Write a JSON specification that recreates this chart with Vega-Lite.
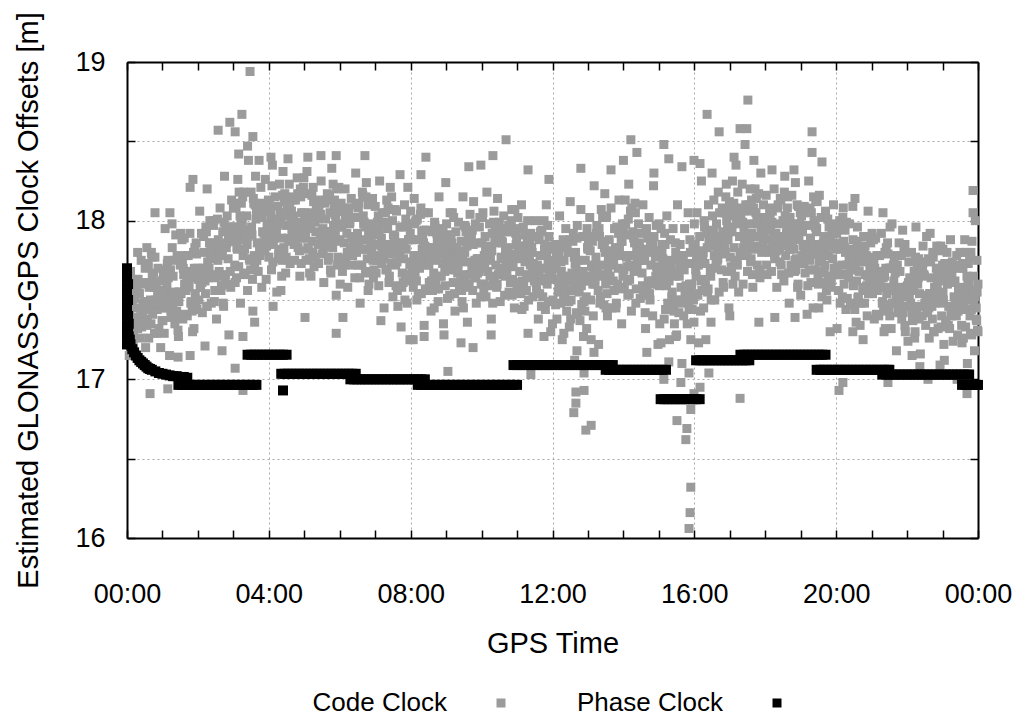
{
"$schema": "https://vega.github.io/schema/vega-lite/v6.json",
"width": 851, "height": 476,
"autosize": {"type": "none"},
"padding": {"left": 127, "top": 62, "right": 43, "bottom": 177},
"background": "white",
"config": {"view": {"stroke": null}, "font": "Liberation Sans",
 "legend": {"orient": "none", "legendX": 361, "legendY": 628, "direction": "horizontal", "title": null, "labelFont": "Liberation Sans", "labelFontSize": 26, "labelColor": "black", "symbolType": "square", "symbolSize": 81, "symbolStrokeWidth": 0, "symbolOpacity": 1, "labelAlign": "right", "labelOffset": -67, "columnPadding": 71}},
"datasets": {
"code": [
{"t":0,"v":17.50},{"t":0.025,"v":17.29},{"t":0.05,"v":17.57},{"t":0.075,"v":17.42},{"t":0.1,"v":17.68},{"t":0.125,"v":17.35},{"t":0.15,"v":17.47},{"t":0.175,"v":17.21},{"t":0.2,"v":17.59},{"t":0.225,"v":17.51},{"t":0.25,"v":17.39},{"t":0.275,"v":17.63},{"t":0.3,"v":17.32},{"t":0.325,"v":17.45},{"t":0.35,"v":17.54},{"t":0.375,"v":17.26},{"t":0.4,"v":17.75},{"t":0.425,"v":17.38},{"t":0.45,"v":17.48},{"t":0.475,"v":17.60},{"t":0.5,"v":17.49},{"t":0.525,"v":17.20},{"t":0.55,"v":17.61},{"t":0.575,"v":17.38},{"t":0.6,"v":17.71},{"t":0.625,"v":17.58},{"t":0.65,"v":17.46},{"t":0.675,"v":17.35},{"t":0.7,"v":17.77},{"t":0.725,"v":17.41},{"t":0.75,"v":17.67},{"t":0.775,"v":17.29},{"t":0.8,"v":17.50},{"t":0.825,"v":17.58},{"t":0.85,"v":17.44},{"t":0.875,"v":17.70},{"t":0.9,"v":17.32},{"t":0.925,"v":17.53},{"t":0.95,"v":17.49},{"t":0.975,"v":17.62},
{"t":1,"v":17.55},{"t":1.025,"v":17.67},{"t":1.05,"v":17.29},{"t":1.075,"v":17.95},{"t":1.1,"v":17.45},{"t":1.125,"v":17.59},{"t":1.15,"v":17.75},{"t":1.175,"v":17.53},{"t":1.2,"v":17.15},{"t":1.225,"v":17.69},{"t":1.25,"v":17.39},{"t":1.275,"v":17.83},{"t":1.3,"v":17.65},{"t":1.325,"v":17.49},{"t":1.35,"v":17.35},{"t":1.375,"v":17.91},{"t":1.4,"v":17.43},{"t":1.425,"v":17.77},{"t":1.45,"v":17.27},{"t":1.475,"v":17.55},{"t":1.5,"v":17.72},{"t":1.525,"v":17.54},{"t":1.55,"v":17.88},{"t":1.575,"v":17.38},{"t":1.6,"v":17.66},{"t":1.625,"v":17.60},{"t":1.65,"v":17.78},{"t":1.675,"v":17.68},{"t":1.7,"v":17.40},{"t":1.725,"v":17.78},{"t":1.75,"v":17.58},{"t":1.775,"v":17.92},{"t":1.8,"v":17.48},{"t":1.825,"v":17.64},{"t":1.85,"v":17.30},{"t":1.875,"v":17.80},{"t":1.9,"v":17.70},{"t":1.925,"v":17.54},{"t":1.95,"v":17.86},{"t":1.975,"v":17.44},
{"t":2,"v":17.64},{"t":2.025,"v":17.50},{"t":2.05,"v":18.06},{"t":2.075,"v":17.58},{"t":2.1,"v":17.92},{"t":2.125,"v":17.42},{"t":2.15,"v":17.70},{"t":2.175,"v":17.80},{"t":2.2,"v":17.62},{"t":2.225,"v":17.96},{"t":2.25,"v":17.46},{"t":2.275,"v":17.74},{"t":2.3,"v":17.68},{"t":2.325,"v":17.86},{"t":2.35,"v":17.76},{"t":2.375,"v":17.48},{"t":2.4,"v":17.86},{"t":2.425,"v":17.66},{"t":2.45,"v":18.00},{"t":2.475,"v":17.56},{"t":2.5,"v":17.81},{"t":2.525,"v":17.38},{"t":2.55,"v":18.01},{"t":2.575,"v":17.88},{"t":2.6,"v":17.68},{"t":2.625,"v":18.08},{"t":2.65,"v":17.56},{"t":2.675,"v":17.78},{"t":2.7,"v":17.93},{"t":2.725,"v":17.46},{"t":2.75,"v":18.28},{"t":2.775,"v":17.66},{"t":2.8,"v":17.83},{"t":2.825,"v":18.03},{"t":2.85,"v":17.76},{"t":2.875,"v":17.28},{"t":2.9,"v":17.96},{"t":2.925,"v":17.58},{"t":2.95,"v":18.13},{"t":2.975,"v":17.91},
{"t":3,"v":18.08},{"t":3.025,"v":17.96},{"t":3.05,"v":17.61},{"t":3.075,"v":18.08},{"t":3.1,"v":17.83},{"t":3.125,"v":18.26},{"t":3.15,"v":17.71},{"t":3.175,"v":17.91},{"t":3.2,"v":17.48},{"t":3.225,"v":18.11},{"t":3.25,"v":17.98},{"t":3.275,"v":17.78},{"t":3.3,"v":18.18},{"t":3.325,"v":17.66},{"t":3.35,"v":17.88},{"t":3.375,"v":18.03},{"t":3.4,"v":17.56},{"t":3.425,"v":18.38},{"t":3.45,"v":17.76},{"t":3.475,"v":17.93},{"t":3.5,"v":18.18},{"t":3.525,"v":17.91},{"t":3.55,"v":17.43},{"t":3.575,"v":18.11},{"t":3.6,"v":17.73},{"t":3.625,"v":18.28},{"t":3.65,"v":18.06},{"t":3.675,"v":17.86},{"t":3.7,"v":17.68},{"t":3.725,"v":18.38},{"t":3.75,"v":17.78},{"t":3.775,"v":18.21},{"t":3.8,"v":17.58},{"t":3.825,"v":17.93},{"t":3.85,"v":18.06},{"t":3.875,"v":17.83},{"t":3.9,"v":18.26},{"t":3.925,"v":17.63},{"t":3.95,"v":17.98},{"t":3.975,"v":17.91},
{"t":4,"v":17.77},{"t":4.025,"v":17.95},{"t":4.05,"v":18.07},{"t":4.075,"v":17.69},{"t":4.1,"v":18.35},{"t":4.125,"v":17.85},{"t":4.15,"v":17.99},{"t":4.175,"v":18.15},{"t":4.2,"v":17.93},{"t":4.225,"v":17.55},{"t":4.25,"v":18.09},{"t":4.275,"v":17.79},{"t":4.3,"v":18.23},{"t":4.325,"v":18.05},{"t":4.35,"v":17.89},{"t":4.375,"v":17.75},{"t":4.4,"v":18.31},{"t":4.425,"v":17.83},{"t":4.45,"v":18.17},{"t":4.475,"v":17.67},{"t":4.5,"v":17.97},{"t":4.525,"v":18.07},{"t":4.55,"v":17.89},{"t":4.575,"v":18.23},{"t":4.6,"v":17.73},{"t":4.625,"v":18.01},{"t":4.65,"v":17.95},{"t":4.675,"v":18.13},{"t":4.7,"v":18.03},{"t":4.725,"v":17.75},{"t":4.75,"v":18.13},{"t":4.775,"v":17.93},{"t":4.8,"v":18.27},{"t":4.825,"v":17.83},{"t":4.85,"v":17.99},{"t":4.875,"v":17.65},{"t":4.9,"v":18.15},{"t":4.925,"v":18.05},{"t":4.95,"v":17.89},{"t":4.975,"v":18.21},
{"t":5,"v":18.05},{"t":5.025,"v":17.89},{"t":5.05,"v":17.75},{"t":5.075,"v":18.31},{"t":5.1,"v":17.83},{"t":5.125,"v":18.17},{"t":5.15,"v":17.67},{"t":5.175,"v":17.95},{"t":5.2,"v":18.05},{"t":5.225,"v":17.87},{"t":5.25,"v":18.21},{"t":5.275,"v":17.71},{"t":5.3,"v":17.99},{"t":5.325,"v":17.93},{"t":5.35,"v":18.11},{"t":5.375,"v":18.01},{"t":5.4,"v":17.73},{"t":5.425,"v":18.11},{"t":5.45,"v":17.91},{"t":5.475,"v":18.25},{"t":5.5,"v":17.79},{"t":5.525,"v":17.95},{"t":5.55,"v":17.61},{"t":5.575,"v":18.11},{"t":5.6,"v":18.01},{"t":5.625,"v":17.85},{"t":5.65,"v":18.17},{"t":5.675,"v":17.75},{"t":5.7,"v":17.93},{"t":5.725,"v":18.05},{"t":5.75,"v":17.67},{"t":5.775,"v":18.33},{"t":5.8,"v":17.83},{"t":5.825,"v":17.97},{"t":5.85,"v":18.13},{"t":5.875,"v":17.91},{"t":5.9,"v":17.53},{"t":5.925,"v":18.07},{"t":5.95,"v":17.77},{"t":5.975,"v":18.21},
{"t":6,"v":17.88},{"t":6.025,"v":18.06},{"t":6.05,"v":17.96},{"t":6.075,"v":17.68},{"t":6.1,"v":18.06},{"t":6.125,"v":17.86},{"t":6.15,"v":18.20},{"t":6.175,"v":17.76},{"t":6.2,"v":17.92},{"t":6.225,"v":17.58},{"t":6.25,"v":18.08},{"t":6.275,"v":17.98},{"t":6.3,"v":17.82},{"t":6.325,"v":18.14},{"t":6.35,"v":17.72},{"t":6.375,"v":17.90},{"t":6.4,"v":18.02},{"t":6.425,"v":17.64},{"t":6.45,"v":18.30},{"t":6.475,"v":17.80},{"t":6.5,"v":17.92},{"t":6.525,"v":18.08},{"t":6.55,"v":17.86},{"t":6.575,"v":17.48},{"t":6.6,"v":18.02},{"t":6.625,"v":17.72},{"t":6.65,"v":18.16},{"t":6.675,"v":17.98},{"t":6.7,"v":17.82},{"t":6.725,"v":17.68},{"t":6.75,"v":18.24},{"t":6.775,"v":17.76},{"t":6.8,"v":18.10},{"t":6.825,"v":17.60},{"t":6.85,"v":17.88},{"t":6.875,"v":17.98},{"t":6.9,"v":17.80},{"t":6.925,"v":18.14},{"t":6.95,"v":17.64},{"t":6.975,"v":17.92},
{"t":7,"v":18.09},{"t":7.025,"v":17.67},{"t":7.05,"v":17.85},{"t":7.075,"v":17.97},{"t":7.1,"v":17.59},{"t":7.125,"v":18.25},{"t":7.15,"v":17.75},{"t":7.175,"v":17.89},{"t":7.2,"v":18.05},{"t":7.225,"v":17.83},{"t":7.25,"v":17.45},{"t":7.275,"v":17.99},{"t":7.3,"v":17.69},{"t":7.325,"v":18.13},{"t":7.35,"v":17.95},{"t":7.375,"v":17.79},{"t":7.4,"v":17.65},{"t":7.425,"v":18.21},{"t":7.45,"v":17.73},{"t":7.475,"v":18.07},{"t":7.5,"v":17.52},{"t":7.525,"v":17.80},{"t":7.55,"v":17.90},{"t":7.575,"v":17.72},{"t":7.6,"v":18.06},{"t":7.625,"v":17.56},{"t":7.65,"v":17.84},{"t":7.675,"v":17.78},{"t":7.7,"v":17.96},{"t":7.725,"v":17.86},{"t":7.75,"v":17.58},{"t":7.775,"v":17.96},{"t":7.8,"v":17.76},{"t":7.825,"v":18.10},{"t":7.85,"v":17.66},{"t":7.875,"v":17.82},{"t":7.9,"v":17.48},{"t":7.925,"v":17.98},{"t":7.95,"v":17.88},{"t":7.975,"v":17.72},
{"t":8,"v":18.06},{"t":8.025,"v":17.88},{"t":8.05,"v":17.72},{"t":8.075,"v":17.58},{"t":8.1,"v":18.14},{"t":8.125,"v":17.66},{"t":8.15,"v":18.00},{"t":8.175,"v":17.50},{"t":8.2,"v":17.78},{"t":8.225,"v":17.88},{"t":8.25,"v":17.70},{"t":8.275,"v":18.04},{"t":8.3,"v":17.54},{"t":8.325,"v":17.82},{"t":8.35,"v":17.76},{"t":8.375,"v":17.94},{"t":8.4,"v":17.84},{"t":8.425,"v":17.56},{"t":8.45,"v":17.94},{"t":8.475,"v":17.74},{"t":8.5,"v":18.05},{"t":8.525,"v":17.61},{"t":8.55,"v":17.77},{"t":8.575,"v":17.43},{"t":8.6,"v":17.93},{"t":8.625,"v":17.83},{"t":8.65,"v":17.67},{"t":8.675,"v":17.99},{"t":8.7,"v":17.57},{"t":8.725,"v":17.75},{"t":8.75,"v":17.87},{"t":8.775,"v":17.49},{"t":8.8,"v":18.15},{"t":8.825,"v":17.65},{"t":8.85,"v":17.79},{"t":8.875,"v":17.95},{"t":8.9,"v":17.73},{"t":8.925,"v":17.35},{"t":8.95,"v":17.89},{"t":8.975,"v":17.59},
{"t":9,"v":17.79},{"t":9.025,"v":17.73},{"t":9.05,"v":17.91},{"t":9.075,"v":17.81},{"t":9.1,"v":17.53},{"t":9.125,"v":17.91},{"t":9.15,"v":17.71},{"t":9.175,"v":18.05},{"t":9.2,"v":17.61},{"t":9.225,"v":17.77},{"t":9.25,"v":17.43},{"t":9.275,"v":17.93},{"t":9.3,"v":17.83},{"t":9.325,"v":17.67},{"t":9.35,"v":17.99},{"t":9.375,"v":17.57},{"t":9.4,"v":17.75},{"t":9.425,"v":17.87},{"t":9.45,"v":17.49},{"t":9.475,"v":18.15},{"t":9.5,"v":17.66},{"t":9.525,"v":17.80},{"t":9.55,"v":17.96},{"t":9.575,"v":17.74},{"t":9.6,"v":17.36},{"t":9.625,"v":17.90},{"t":9.65,"v":17.60},{"t":9.675,"v":18.04},{"t":9.7,"v":17.86},{"t":9.725,"v":17.70},{"t":9.75,"v":17.56},{"t":9.775,"v":18.12},{"t":9.8,"v":17.64},{"t":9.825,"v":17.98},{"t":9.85,"v":17.48},{"t":9.875,"v":17.76},{"t":9.9,"v":17.86},{"t":9.925,"v":17.68},{"t":9.95,"v":18.02},{"t":9.975,"v":17.52},
{"t":10,"v":17.70},{"t":10.025,"v":18.02},{"t":10.05,"v":17.60},{"t":10.075,"v":17.78},{"t":10.1,"v":17.90},{"t":10.125,"v":17.52},{"t":10.15,"v":18.18},{"t":10.175,"v":17.68},{"t":10.2,"v":17.82},{"t":10.225,"v":17.98},{"t":10.25,"v":17.76},{"t":10.275,"v":17.38},{"t":10.3,"v":17.92},{"t":10.325,"v":17.62},{"t":10.35,"v":18.06},{"t":10.375,"v":17.88},{"t":10.4,"v":17.72},{"t":10.425,"v":17.58},{"t":10.45,"v":18.14},{"t":10.475,"v":17.66},{"t":10.5,"v":17.99},{"t":10.525,"v":17.49},{"t":10.55,"v":17.77},{"t":10.575,"v":17.87},{"t":10.6,"v":17.69},{"t":10.625,"v":18.03},{"t":10.65,"v":17.53},{"t":10.675,"v":17.81},{"t":10.7,"v":17.75},{"t":10.725,"v":17.93},{"t":10.75,"v":17.83},{"t":10.775,"v":17.55},{"t":10.8,"v":17.93},{"t":10.825,"v":17.73},{"t":10.85,"v":18.07},{"t":10.875,"v":17.63},{"t":10.9,"v":17.79},{"t":10.925,"v":17.45},{"t":10.95,"v":17.95},{"t":10.975,"v":17.85},
{"t":11,"v":17.58},{"t":11.025,"v":18.02},{"t":11.05,"v":17.84},{"t":11.075,"v":17.68},{"t":11.1,"v":17.54},{"t":11.125,"v":18.10},{"t":11.15,"v":17.62},{"t":11.175,"v":17.96},{"t":11.2,"v":17.46},{"t":11.225,"v":17.74},{"t":11.25,"v":17.84},{"t":11.275,"v":17.66},{"t":11.3,"v":18.00},{"t":11.325,"v":17.50},{"t":11.35,"v":17.78},{"t":11.375,"v":17.72},{"t":11.4,"v":17.90},{"t":11.425,"v":17.80},{"t":11.45,"v":17.52},{"t":11.475,"v":17.90},{"t":11.5,"v":17.66},{"t":11.525,"v":18.00},{"t":11.55,"v":17.56},{"t":11.575,"v":17.72},{"t":11.6,"v":17.38},{"t":11.625,"v":17.88},{"t":11.65,"v":17.78},{"t":11.675,"v":17.62},{"t":11.7,"v":17.94},{"t":11.725,"v":17.52},{"t":11.75,"v":17.70},{"t":11.775,"v":17.82},{"t":11.8,"v":17.44},{"t":11.825,"v":18.10},{"t":11.85,"v":17.60},{"t":11.875,"v":17.74},{"t":11.9,"v":17.90},{"t":11.925,"v":17.68},{"t":11.95,"v":17.30},{"t":11.975,"v":17.84},
{"t":12,"v":17.35},{"t":12.025,"v":17.70},{"t":12.05,"v":17.63},{"t":12.075,"v":17.85},{"t":12.1,"v":17.73},{"t":12.125,"v":17.38},{"t":12.15,"v":17.85},{"t":12.175,"v":17.60},{"t":12.2,"v":18.03},{"t":12.225,"v":17.48},{"t":12.25,"v":17.68},{"t":12.275,"v":17.25},{"t":12.3,"v":17.88},{"t":12.325,"v":17.75},{"t":12.35,"v":17.55},{"t":12.375,"v":17.95},{"t":12.4,"v":17.43},{"t":12.425,"v":17.65},{"t":12.45,"v":17.80},{"t":12.475,"v":17.33},{"t":12.5,"v":18.12},{"t":12.525,"v":17.50},{"t":12.55,"v":17.67},{"t":12.575,"v":17.87},{"t":12.6,"v":17.60},{"t":12.625,"v":17.12},{"t":12.65,"v":17.80},{"t":12.675,"v":17.42},{"t":12.7,"v":17.97},{"t":12.725,"v":17.75},{"t":12.75,"v":17.55},{"t":12.775,"v":17.37},{"t":12.8,"v":18.07},{"t":12.825,"v":17.47},{"t":12.85,"v":17.90},{"t":12.875,"v":17.27},{"t":12.9,"v":17.62},{"t":12.925,"v":17.75},{"t":12.95,"v":17.52},{"t":12.975,"v":17.95},
{"t":13,"v":17.82},{"t":13.025,"v":17.62},{"t":13.05,"v":18.02},{"t":13.075,"v":17.50},{"t":13.1,"v":17.72},{"t":13.125,"v":17.87},{"t":13.15,"v":17.40},{"t":13.175,"v":18.22},{"t":13.2,"v":17.60},{"t":13.225,"v":17.77},{"t":13.25,"v":17.97},{"t":13.275,"v":17.70},{"t":13.3,"v":17.22},{"t":13.325,"v":17.90},{"t":13.35,"v":17.52},{"t":13.375,"v":18.07},{"t":13.4,"v":17.85},{"t":13.425,"v":17.65},{"t":13.45,"v":17.47},{"t":13.475,"v":18.17},{"t":13.5,"v":17.60},{"t":13.525,"v":18.03},{"t":13.55,"v":17.40},{"t":13.575,"v":17.75},{"t":13.6,"v":17.88},{"t":13.625,"v":17.65},{"t":13.65,"v":18.08},{"t":13.675,"v":17.45},{"t":13.7,"v":17.80},{"t":13.725,"v":17.73},{"t":13.75,"v":17.95},{"t":13.775,"v":17.83},{"t":13.8,"v":17.48},{"t":13.825,"v":17.95},{"t":13.85,"v":17.70},{"t":13.875,"v":18.13},{"t":13.9,"v":17.58},{"t":13.925,"v":17.78},{"t":13.95,"v":17.35},{"t":13.975,"v":17.98},
{"t":14,"v":17.96},{"t":14.025,"v":17.58},{"t":14.05,"v":18.13},{"t":14.075,"v":17.91},{"t":14.1,"v":17.71},{"t":14.125,"v":17.53},{"t":14.15,"v":18.23},{"t":14.175,"v":17.63},{"t":14.2,"v":18.06},{"t":14.225,"v":17.43},{"t":14.25,"v":17.78},{"t":14.275,"v":17.91},{"t":14.3,"v":17.68},{"t":14.325,"v":18.11},{"t":14.35,"v":17.48},{"t":14.375,"v":17.83},{"t":14.4,"v":17.76},{"t":14.425,"v":17.98},{"t":14.45,"v":17.86},{"t":14.475,"v":17.51},{"t":14.5,"v":17.92},{"t":14.525,"v":17.67},{"t":14.55,"v":18.10},{"t":14.575,"v":17.55},{"t":14.6,"v":17.75},{"t":14.625,"v":17.32},{"t":14.65,"v":17.95},{"t":14.675,"v":17.82},{"t":14.7,"v":17.62},{"t":14.725,"v":18.02},{"t":14.75,"v":17.50},{"t":14.775,"v":17.72},{"t":14.8,"v":17.87},{"t":14.825,"v":17.40},{"t":14.85,"v":18.22},{"t":14.875,"v":17.60},{"t":14.9,"v":17.77},{"t":14.925,"v":17.97},{"t":14.95,"v":17.70},{"t":14.975,"v":17.22},
{"t":15,"v":17.98},{"t":15.025,"v":17.35},{"t":15.05,"v":17.70},{"t":15.075,"v":17.63},{"t":15.1,"v":17.85},{"t":15.125,"v":17.73},{"t":15.15,"v":17.38},{"t":15.175,"v":17.85},{"t":15.2,"v":17.60},{"t":15.225,"v":18.03},{"t":15.25,"v":17.48},{"t":15.275,"v":17.68},{"t":15.3,"v":17.25},{"t":15.325,"v":17.88},{"t":15.35,"v":17.75},{"t":15.375,"v":17.55},{"t":15.4,"v":17.95},{"t":15.425,"v":17.43},{"t":15.45,"v":17.65},{"t":15.475,"v":17.80},{"t":15.5,"v":17.28},{"t":15.525,"v":18.10},{"t":15.55,"v":17.48},{"t":15.575,"v":17.65},{"t":15.6,"v":17.85},{"t":15.625,"v":17.58},{"t":15.65,"v":17.10},{"t":15.675,"v":17.78},{"t":15.7,"v":17.40},{"t":15.725,"v":17.95},{"t":15.75,"v":17.73},{"t":15.775,"v":17.53},{"t":15.8,"v":17.35},{"t":15.825,"v":18.05},{"t":15.85,"v":17.45},{"t":15.875,"v":17.88},{"t":15.9,"v":17.25},{"t":15.925,"v":17.60},{"t":15.95,"v":17.73},{"t":15.975,"v":17.50},
{"t":16,"v":17.98},{"t":16.025,"v":17.85},{"t":16.05,"v":17.65},{"t":16.075,"v":18.05},{"t":16.1,"v":17.53},{"t":16.125,"v":17.75},{"t":16.15,"v":17.90},{"t":16.175,"v":17.43},{"t":16.2,"v":18.25},{"t":16.225,"v":17.63},{"t":16.25,"v":17.80},{"t":16.275,"v":18.00},{"t":16.3,"v":17.73},{"t":16.325,"v":17.25},{"t":16.35,"v":17.93},{"t":16.375,"v":17.55},{"t":16.4,"v":18.10},{"t":16.425,"v":17.88},{"t":16.45,"v":17.68},{"t":16.475,"v":17.50},{"t":16.5,"v":18.30},{"t":16.525,"v":17.70},{"t":16.55,"v":18.13},{"t":16.575,"v":17.50},{"t":16.6,"v":17.85},{"t":16.625,"v":17.98},{"t":16.65,"v":17.75},{"t":16.675,"v":18.18},{"t":16.7,"v":17.55},{"t":16.725,"v":17.90},{"t":16.75,"v":17.83},{"t":16.775,"v":18.05},{"t":16.8,"v":17.93},{"t":16.825,"v":17.58},{"t":16.85,"v":18.05},{"t":16.875,"v":17.80},{"t":16.9,"v":18.23},{"t":16.925,"v":17.68},{"t":16.95,"v":17.88},{"t":16.975,"v":17.45},
{"t":17,"v":17.40},{"t":17.025,"v":18.08},{"t":17.05,"v":17.70},{"t":17.075,"v":18.25},{"t":17.1,"v":18.03},{"t":17.125,"v":17.83},{"t":17.15,"v":17.65},{"t":17.175,"v":18.35},{"t":17.2,"v":17.75},{"t":17.225,"v":18.18},{"t":17.25,"v":17.55},{"t":17.275,"v":17.90},{"t":17.3,"v":18.03},{"t":17.325,"v":17.80},{"t":17.35,"v":18.23},{"t":17.375,"v":17.60},{"t":17.4,"v":17.95},{"t":17.425,"v":17.88},{"t":17.45,"v":18.10},{"t":17.475,"v":17.98},{"t":17.5,"v":17.68},{"t":17.525,"v":18.06},{"t":17.55,"v":17.86},{"t":17.575,"v":18.20},{"t":17.6,"v":17.76},{"t":17.625,"v":17.92},{"t":17.65,"v":17.58},{"t":17.675,"v":18.08},{"t":17.7,"v":17.98},{"t":17.725,"v":17.82},{"t":17.75,"v":18.14},{"t":17.775,"v":17.72},{"t":17.8,"v":17.90},{"t":17.825,"v":18.02},{"t":17.85,"v":17.64},{"t":17.875,"v":18.30},{"t":17.9,"v":17.80},{"t":17.925,"v":17.94},{"t":17.95,"v":18.10},{"t":17.975,"v":17.88},
{"t":18,"v":17.82},{"t":18.025,"v":18.16},{"t":18.05,"v":17.66},{"t":18.075,"v":17.94},{"t":18.1,"v":17.88},{"t":18.125,"v":18.06},{"t":18.15,"v":17.96},{"t":18.175,"v":17.68},{"t":18.2,"v":18.06},{"t":18.225,"v":17.86},{"t":18.25,"v":18.20},{"t":18.275,"v":17.76},{"t":18.3,"v":17.92},{"t":18.325,"v":17.58},{"t":18.35,"v":18.08},{"t":18.375,"v":17.98},{"t":18.4,"v":17.82},{"t":18.425,"v":18.14},{"t":18.45,"v":17.72},{"t":18.475,"v":17.90},{"t":18.5,"v":18.00},{"t":18.525,"v":17.62},{"t":18.55,"v":18.28},{"t":18.575,"v":17.78},{"t":18.6,"v":17.92},{"t":18.625,"v":18.08},{"t":18.65,"v":17.86},{"t":18.675,"v":17.48},{"t":18.7,"v":18.02},{"t":18.725,"v":17.72},{"t":18.75,"v":18.16},{"t":18.775,"v":17.98},{"t":18.8,"v":17.82},{"t":18.825,"v":17.68},{"t":18.85,"v":18.24},{"t":18.875,"v":17.76},{"t":18.9,"v":18.10},{"t":18.925,"v":17.60},{"t":18.95,"v":17.88},{"t":18.975,"v":17.98},
{"t":19,"v":17.53},{"t":19.025,"v":18.03},{"t":19.05,"v":17.93},{"t":19.075,"v":17.77},{"t":19.1,"v":18.09},{"t":19.125,"v":17.67},{"t":19.15,"v":17.85},{"t":19.175,"v":17.97},{"t":19.2,"v":17.59},{"t":19.225,"v":18.25},{"t":19.25,"v":17.75},{"t":19.275,"v":17.89},{"t":19.3,"v":18.05},{"t":19.325,"v":17.83},{"t":19.35,"v":17.45},{"t":19.375,"v":17.99},{"t":19.4,"v":17.69},{"t":19.425,"v":18.13},{"t":19.45,"v":17.95},{"t":19.475,"v":17.79},{"t":19.5,"v":17.60},{"t":19.525,"v":18.16},{"t":19.55,"v":17.68},{"t":19.575,"v":18.02},{"t":19.6,"v":17.52},{"t":19.625,"v":17.80},{"t":19.65,"v":17.90},{"t":19.675,"v":17.72},{"t":19.7,"v":18.06},{"t":19.725,"v":17.56},{"t":19.75,"v":17.84},{"t":19.775,"v":17.78},{"t":19.8,"v":17.96},{"t":19.825,"v":17.86},{"t":19.85,"v":17.58},{"t":19.875,"v":17.96},{"t":19.9,"v":17.76},{"t":19.925,"v":18.10},{"t":19.95,"v":17.66},{"t":19.975,"v":17.82},
{"t":20,"v":17.70},{"t":20.025,"v":17.32},{"t":20.05,"v":17.86},{"t":20.075,"v":17.56},{"t":20.1,"v":18.00},{"t":20.125,"v":17.82},{"t":20.15,"v":17.66},{"t":20.175,"v":17.52},{"t":20.2,"v":18.08},{"t":20.225,"v":17.60},{"t":20.25,"v":17.94},{"t":20.275,"v":17.44},{"t":20.3,"v":17.72},{"t":20.325,"v":17.82},{"t":20.35,"v":17.64},{"t":20.375,"v":17.98},{"t":20.4,"v":17.48},{"t":20.425,"v":17.76},{"t":20.45,"v":17.70},{"t":20.475,"v":17.88},{"t":20.5,"v":17.72},{"t":20.525,"v":17.44},{"t":20.55,"v":17.82},{"t":20.575,"v":17.62},{"t":20.6,"v":17.96},{"t":20.625,"v":17.52},{"t":20.65,"v":17.68},{"t":20.675,"v":17.34},{"t":20.7,"v":17.84},{"t":20.725,"v":17.74},{"t":20.75,"v":17.58},{"t":20.775,"v":17.90},{"t":20.8,"v":17.48},{"t":20.825,"v":17.66},{"t":20.85,"v":17.78},{"t":20.875,"v":17.40},{"t":20.9,"v":18.06},{"t":20.925,"v":17.56},{"t":20.95,"v":17.70},{"t":20.975,"v":17.86},
{"t":21,"v":17.72},{"t":21.025,"v":17.54},{"t":21.05,"v":17.88},{"t":21.075,"v":17.38},{"t":21.1,"v":17.66},{"t":21.125,"v":17.60},{"t":21.15,"v":17.78},{"t":21.175,"v":17.68},{"t":21.2,"v":17.40},{"t":21.225,"v":17.78},{"t":21.25,"v":17.58},{"t":21.275,"v":17.92},{"t":21.3,"v":17.48},{"t":21.325,"v":17.64},{"t":21.35,"v":17.30},{"t":21.375,"v":17.80},{"t":21.4,"v":17.70},{"t":21.425,"v":17.54},{"t":21.45,"v":17.86},{"t":21.475,"v":17.44},{"t":21.5,"v":17.58},{"t":21.525,"v":17.70},{"t":21.55,"v":17.32},{"t":21.575,"v":17.98},{"t":21.6,"v":17.48},{"t":21.625,"v":17.62},{"t":21.65,"v":17.78},{"t":21.675,"v":17.56},{"t":21.7,"v":17.18},{"t":21.725,"v":17.72},{"t":21.75,"v":17.42},{"t":21.775,"v":17.86},{"t":21.8,"v":17.68},{"t":21.825,"v":17.52},{"t":21.85,"v":17.38},{"t":21.875,"v":17.94},{"t":21.9,"v":17.46},{"t":21.925,"v":17.80},{"t":21.95,"v":17.30},{"t":21.975,"v":17.58},
{"t":22,"v":17.58},{"t":22.025,"v":17.24},{"t":22.05,"v":17.74},{"t":22.075,"v":17.64},{"t":22.1,"v":17.48},{"t":22.125,"v":17.80},{"t":22.15,"v":17.38},{"t":22.175,"v":17.56},{"t":22.2,"v":17.68},{"t":22.225,"v":17.30},{"t":22.25,"v":17.96},{"t":22.275,"v":17.46},{"t":22.3,"v":17.60},{"t":22.325,"v":17.76},{"t":22.35,"v":17.54},{"t":22.375,"v":17.16},{"t":22.4,"v":17.70},{"t":22.425,"v":17.40},{"t":22.45,"v":17.84},{"t":22.475,"v":17.66},{"t":22.5,"v":17.48},{"t":22.525,"v":17.34},{"t":22.55,"v":17.90},{"t":22.575,"v":17.42},{"t":22.6,"v":17.76},{"t":22.625,"v":17.26},{"t":22.65,"v":17.54},{"t":22.675,"v":17.64},{"t":22.7,"v":17.46},{"t":22.725,"v":17.80},{"t":22.75,"v":17.30},{"t":22.775,"v":17.58},{"t":22.8,"v":17.52},{"t":22.825,"v":17.70},{"t":22.85,"v":17.60},{"t":22.875,"v":17.32},{"t":22.9,"v":17.70},{"t":22.925,"v":17.50},{"t":22.95,"v":17.84},{"t":22.975,"v":17.40},
{"t":23,"v":17.72},{"t":23.025,"v":17.50},{"t":23.05,"v":17.12},{"t":23.075,"v":17.66},{"t":23.1,"v":17.36},{"t":23.125,"v":17.80},{"t":23.15,"v":17.62},{"t":23.175,"v":17.46},{"t":23.2,"v":17.32},{"t":23.225,"v":17.88},{"t":23.25,"v":17.40},{"t":23.275,"v":17.74},{"t":23.3,"v":17.24},{"t":23.325,"v":17.52},{"t":23.35,"v":17.62},{"t":23.375,"v":17.44},{"t":23.4,"v":17.78},{"t":23.425,"v":17.28},{"t":23.45,"v":17.56},{"t":23.475,"v":17.50},{"t":23.5,"v":17.70},{"t":23.525,"v":17.58},{"t":23.55,"v":17.23},{"t":23.575,"v":17.70},{"t":23.6,"v":17.45},{"t":23.625,"v":17.88},{"t":23.65,"v":17.33},{"t":23.675,"v":17.53},{"t":23.7,"v":17.10},{"t":23.725,"v":17.73},{"t":23.75,"v":17.60},{"t":23.775,"v":17.40},{"t":23.8,"v":17.80},{"t":23.825,"v":17.28},{"t":23.85,"v":17.50},{"t":23.875,"v":17.65},{"t":23.9,"v":17.18},{"t":23.925,"v":18.00},{"t":23.95,"v":17.38},{"t":23.975,"v":17.55},
{"t":0.013,"v":17.26},{"t":0.038,"v":17.48},{"t":0.063,"v":17.15},{"t":0.088,"v":17.66},{"t":0.113,"v":17.30},{"t":0.138,"v":17.62},{"t":0.163,"v":17.53},{"t":0.188,"v":17.27},{"t":0.213,"v":17.57},{"t":0.238,"v":17.57},{"t":0.263,"v":17.35},{"t":0.288,"v":17.59},{"t":0.313,"v":17.63},{"t":0.338,"v":17.54},{"t":0.363,"v":17.38},{"t":0.388,"v":17.44},{"t":0.413,"v":17.33},{"t":0.438,"v":17.41},{"t":0.463,"v":17.36},{"t":0.488,"v":17.45},{"t":0.513,"v":17.70},{"t":0.538,"v":17.49},{"t":0.563,"v":17.34},{"t":0.588,"v":17.73},{"t":0.613,"v":17.26},{"t":0.638,"v":17.44},{"t":0.663,"v":17.50},{"t":0.688,"v":17.80},{"t":0.713,"v":17.65},{"t":0.738,"v":17.61},{"t":0.763,"v":17.58},{"t":0.788,"v":17.77},{"t":0.813,"v":17.29},{"t":0.838,"v":17.44},{"t":0.863,"v":17.53},{"t":0.888,"v":17.55},{"t":0.913,"v":17.47},{"t":0.938,"v":17.52},{"t":0.963,"v":17.56},{"t":0.988,"v":17.37},
{"t":1.013,"v":17.37},{"t":1.038,"v":17.67},{"t":1.063,"v":17.67},{"t":1.088,"v":17.45},{"t":1.113,"v":17.69},{"t":1.138,"v":17.73},{"t":1.163,"v":17.64},{"t":1.188,"v":17.48},{"t":1.213,"v":17.54},{"t":1.238,"v":17.43},{"t":1.263,"v":17.51},{"t":1.288,"v":17.46},{"t":1.313,"v":17.55},{"t":1.338,"v":17.75},{"t":1.363,"v":17.54},{"t":1.388,"v":17.39},{"t":1.413,"v":17.78},{"t":1.438,"v":17.31},{"t":1.463,"v":17.49},{"t":1.488,"v":17.55},{"t":1.513,"v":17.92},{"t":1.538,"v":17.77},{"t":1.563,"v":17.73},{"t":1.588,"v":17.70},{"t":1.613,"v":17.89},{"t":1.638,"v":17.41},{"t":1.663,"v":17.56},{"t":1.688,"v":17.65},{"t":1.713,"v":17.67},{"t":1.738,"v":17.59},{"t":1.763,"v":17.64},{"t":1.788,"v":17.68},{"t":1.813,"v":17.49},{"t":1.838,"v":17.43},{"t":1.863,"v":17.65},{"t":1.888,"v":17.32},{"t":1.913,"v":17.83},{"t":1.938,"v":17.47},{"t":1.963,"v":17.79},{"t":1.988,"v":17.70},
{"t":2.013,"v":17.63},{"t":2.038,"v":17.69},{"t":2.063,"v":17.58},{"t":2.088,"v":17.66},{"t":2.113,"v":17.61},{"t":2.138,"v":17.70},{"t":2.163,"v":17.90},{"t":2.188,"v":17.69},{"t":2.213,"v":17.54},{"t":2.238,"v":17.93},{"t":2.263,"v":17.46},{"t":2.288,"v":17.64},{"t":2.313,"v":17.70},{"t":2.338,"v":18.00},{"t":2.363,"v":17.85},{"t":2.388,"v":17.81},{"t":2.413,"v":17.78},{"t":2.438,"v":17.97},{"t":2.463,"v":17.49},{"t":2.488,"v":17.64},{"t":2.513,"v":17.81},{"t":2.538,"v":17.83},{"t":2.563,"v":17.75},{"t":2.588,"v":17.80},{"t":2.613,"v":17.84},{"t":2.638,"v":17.65},{"t":2.663,"v":17.59},{"t":2.688,"v":17.81},{"t":2.713,"v":17.48},{"t":2.738,"v":17.99},{"t":2.763,"v":17.63},{"t":2.788,"v":17.95},{"t":2.813,"v":17.86},{"t":2.838,"v":17.60},{"t":2.863,"v":17.90},{"t":2.888,"v":17.90},{"t":2.913,"v":17.68},{"t":2.938,"v":17.92},{"t":2.963,"v":17.96},{"t":2.988,"v":17.87},
{"t":3.013,"v":17.87},{"t":3.038,"v":17.72},{"t":3.063,"v":18.11},{"t":3.088,"v":17.64},{"t":3.113,"v":17.82},{"t":3.138,"v":17.88},{"t":3.163,"v":18.18},{"t":3.188,"v":18.03},{"t":3.213,"v":17.99},{"t":3.238,"v":17.96},{"t":3.263,"v":18.15},{"t":3.288,"v":17.67},{"t":3.313,"v":17.82},{"t":3.338,"v":17.91},{"t":3.363,"v":17.93},{"t":3.388,"v":17.85},{"t":3.413,"v":17.90},{"t":3.438,"v":17.94},{"t":3.463,"v":17.75},{"t":3.488,"v":17.69},{"t":3.513,"v":17.96},{"t":3.538,"v":17.63},{"t":3.563,"v":18.14},{"t":3.588,"v":17.78},{"t":3.613,"v":18.10},{"t":3.638,"v":18.01},{"t":3.663,"v":17.75},{"t":3.688,"v":18.05},{"t":3.713,"v":18.05},{"t":3.738,"v":17.83},{"t":3.763,"v":18.07},{"t":3.788,"v":18.11},{"t":3.813,"v":18.02},{"t":3.838,"v":17.86},{"t":3.863,"v":17.92},{"t":3.888,"v":17.81},{"t":3.913,"v":17.89},{"t":3.938,"v":17.84},{"t":3.963,"v":17.93},{"t":3.988,"v":18.13},
{"t":4.013,"v":18.10},{"t":4.038,"v":18.06},{"t":4.063,"v":18.03},{"t":4.088,"v":18.22},{"t":4.113,"v":17.74},{"t":4.138,"v":17.89},{"t":4.163,"v":17.98},{"t":4.188,"v":18.00},{"t":4.213,"v":17.92},{"t":4.238,"v":17.97},{"t":4.263,"v":18.01},{"t":4.288,"v":17.82},{"t":4.313,"v":17.76},{"t":4.338,"v":17.98},{"t":4.363,"v":17.65},{"t":4.388,"v":18.16},{"t":4.413,"v":17.80},{"t":4.438,"v":18.12},{"t":4.463,"v":18.03},{"t":4.488,"v":17.77},{"t":4.513,"v":18.09},{"t":4.538,"v":18.09},{"t":4.563,"v":17.87},{"t":4.588,"v":18.11},{"t":4.613,"v":18.15},{"t":4.638,"v":18.06},{"t":4.663,"v":17.90},{"t":4.688,"v":17.96},{"t":4.713,"v":17.85},{"t":4.738,"v":17.93},{"t":4.763,"v":17.88},{"t":4.788,"v":17.97},{"t":4.813,"v":18.17},{"t":4.838,"v":17.96},{"t":4.863,"v":17.81},{"t":4.888,"v":18.20},{"t":4.913,"v":17.73},{"t":4.938,"v":17.91},{"t":4.963,"v":17.97},{"t":4.988,"v":18.27},
{"t":5.013,"v":18.00},{"t":5.038,"v":17.92},{"t":5.063,"v":17.97},{"t":5.088,"v":18.01},{"t":5.113,"v":17.82},{"t":5.138,"v":17.76},{"t":5.163,"v":17.98},{"t":5.188,"v":17.65},{"t":5.213,"v":18.16},{"t":5.238,"v":17.80},{"t":5.263,"v":18.12},{"t":5.288,"v":18.03},{"t":5.313,"v":17.77},{"t":5.338,"v":18.07},{"t":5.363,"v":18.07},{"t":5.388,"v":17.85},{"t":5.413,"v":18.09},{"t":5.438,"v":18.13},{"t":5.463,"v":18.04},{"t":5.488,"v":17.88},{"t":5.513,"v":17.92},{"t":5.538,"v":17.81},{"t":5.563,"v":17.89},{"t":5.588,"v":17.84},{"t":5.613,"v":17.93},{"t":5.638,"v":18.13},{"t":5.663,"v":17.92},{"t":5.688,"v":17.77},{"t":5.713,"v":18.16},{"t":5.738,"v":17.69},{"t":5.763,"v":17.87},{"t":5.788,"v":17.93},{"t":5.813,"v":18.23},{"t":5.838,"v":18.08},{"t":5.863,"v":18.04},{"t":5.888,"v":18.01},{"t":5.913,"v":18.20},{"t":5.938,"v":17.72},{"t":5.963,"v":17.87},{"t":5.988,"v":17.96},
{"t":6.013,"v":17.60},{"t":6.038,"v":18.11},{"t":6.063,"v":17.75},{"t":6.088,"v":18.07},{"t":6.113,"v":17.98},{"t":6.138,"v":17.72},{"t":6.163,"v":18.02},{"t":6.188,"v":18.02},{"t":6.213,"v":17.80},{"t":6.238,"v":18.04},{"t":6.263,"v":18.08},{"t":6.288,"v":17.99},{"t":6.313,"v":17.83},{"t":6.338,"v":17.89},{"t":6.363,"v":17.78},{"t":6.388,"v":17.86},{"t":6.413,"v":17.81},{"t":6.438,"v":17.90},{"t":6.463,"v":18.10},{"t":6.488,"v":17.89},{"t":6.513,"v":17.72},{"t":6.538,"v":18.11},{"t":6.563,"v":17.64},{"t":6.588,"v":17.82},{"t":6.613,"v":17.88},{"t":6.638,"v":18.18},{"t":6.663,"v":18.03},{"t":6.688,"v":17.99},{"t":6.713,"v":17.96},{"t":6.738,"v":18.15},{"t":6.763,"v":17.67},{"t":6.788,"v":17.82},{"t":6.813,"v":17.91},{"t":6.838,"v":17.93},{"t":6.863,"v":17.85},{"t":6.888,"v":17.90},{"t":6.913,"v":17.94},{"t":6.938,"v":17.75},{"t":6.963,"v":17.69},{"t":6.988,"v":17.91},
{"t":7.013,"v":17.97},{"t":7.038,"v":17.75},{"t":7.063,"v":17.99},{"t":7.088,"v":18.03},{"t":7.113,"v":17.94},{"t":7.138,"v":17.78},{"t":7.163,"v":17.84},{"t":7.188,"v":17.73},{"t":7.213,"v":17.81},{"t":7.238,"v":17.76},{"t":7.263,"v":17.85},{"t":7.288,"v":18.05},{"t":7.313,"v":17.84},{"t":7.338,"v":17.69},{"t":7.363,"v":18.08},{"t":7.388,"v":17.61},{"t":7.413,"v":17.79},{"t":7.438,"v":17.85},{"t":7.463,"v":18.15},{"t":7.488,"v":18.00},{"t":7.513,"v":17.91},{"t":7.538,"v":17.88},{"t":7.563,"v":18.07},{"t":7.588,"v":17.59},{"t":7.613,"v":17.74},{"t":7.638,"v":17.83},{"t":7.663,"v":17.85},{"t":7.688,"v":17.77},{"t":7.713,"v":17.82},{"t":7.738,"v":17.86},{"t":7.763,"v":17.67},{"t":7.788,"v":17.61},{"t":7.813,"v":17.83},{"t":7.838,"v":17.50},{"t":7.863,"v":18.01},{"t":7.888,"v":17.65},{"t":7.913,"v":17.97},{"t":7.938,"v":17.88},{"t":7.963,"v":17.62},{"t":7.988,"v":17.92},
{"t":8.013,"v":17.66},{"t":8.038,"v":17.74},{"t":8.063,"v":17.69},{"t":8.088,"v":17.78},{"t":8.113,"v":17.98},{"t":8.138,"v":17.77},{"t":8.163,"v":17.62},{"t":8.188,"v":18.01},{"t":8.213,"v":17.54},{"t":8.238,"v":17.72},{"t":8.263,"v":17.78},{"t":8.288,"v":18.08},{"t":8.313,"v":17.93},{"t":8.338,"v":17.89},{"t":8.363,"v":17.86},{"t":8.388,"v":18.05},{"t":8.413,"v":17.57},{"t":8.438,"v":17.72},{"t":8.463,"v":17.81},{"t":8.488,"v":17.83},{"t":8.513,"v":17.72},{"t":8.538,"v":17.77},{"t":8.563,"v":17.81},{"t":8.588,"v":17.62},{"t":8.613,"v":17.56},{"t":8.638,"v":17.78},{"t":8.663,"v":17.45},{"t":8.688,"v":17.96},{"t":8.713,"v":17.60},{"t":8.738,"v":17.92},{"t":8.763,"v":17.83},{"t":8.788,"v":17.57},{"t":8.813,"v":17.87},{"t":8.838,"v":17.87},{"t":8.863,"v":17.65},{"t":8.888,"v":17.89},{"t":8.913,"v":17.93},{"t":8.938,"v":17.84},{"t":8.963,"v":17.68},{"t":8.988,"v":17.74},
{"t":9.013,"v":17.98},{"t":9.038,"v":17.51},{"t":9.063,"v":17.69},{"t":9.088,"v":17.75},{"t":9.113,"v":18.05},{"t":9.138,"v":17.90},{"t":9.163,"v":17.86},{"t":9.188,"v":17.83},{"t":9.213,"v":18.02},{"t":9.238,"v":17.54},{"t":9.263,"v":17.69},{"t":9.288,"v":17.78},{"t":9.313,"v":17.80},{"t":9.338,"v":17.72},{"t":9.363,"v":17.77},{"t":9.388,"v":17.81},{"t":9.413,"v":17.62},{"t":9.438,"v":17.56},{"t":9.463,"v":17.78},{"t":9.488,"v":17.45},{"t":9.513,"v":17.97},{"t":9.538,"v":17.61},{"t":9.563,"v":17.93},{"t":9.588,"v":17.84},{"t":9.613,"v":17.58},{"t":9.638,"v":17.88},{"t":9.663,"v":17.88},{"t":9.688,"v":17.66},{"t":9.713,"v":17.90},{"t":9.738,"v":17.94},{"t":9.763,"v":17.85},{"t":9.788,"v":17.69},{"t":9.813,"v":17.75},{"t":9.838,"v":17.64},{"t":9.863,"v":17.72},{"t":9.888,"v":17.67},{"t":9.913,"v":17.76},{"t":9.938,"v":17.96},{"t":9.963,"v":17.75},{"t":9.988,"v":17.60},
{"t":10.013,"v":17.86},{"t":10.038,"v":18.05},{"t":10.063,"v":17.57},{"t":10.088,"v":17.72},{"t":10.113,"v":17.81},{"t":10.138,"v":17.83},{"t":10.163,"v":17.75},{"t":10.188,"v":17.80},{"t":10.213,"v":17.84},{"t":10.238,"v":17.65},{"t":10.263,"v":17.59},{"t":10.288,"v":17.81},{"t":10.313,"v":17.48},{"t":10.338,"v":17.99},{"t":10.363,"v":17.63},{"t":10.388,"v":17.95},{"t":10.413,"v":17.86},{"t":10.438,"v":17.60},{"t":10.463,"v":17.90},{"t":10.488,"v":17.90},{"t":10.513,"v":17.67},{"t":10.538,"v":17.91},{"t":10.563,"v":17.95},{"t":10.588,"v":17.86},{"t":10.613,"v":17.70},{"t":10.638,"v":17.76},{"t":10.663,"v":17.65},{"t":10.688,"v":17.73},{"t":10.713,"v":17.68},{"t":10.738,"v":17.77},{"t":10.763,"v":17.97},{"t":10.788,"v":17.76},{"t":10.813,"v":17.61},{"t":10.838,"v":18.00},{"t":10.863,"v":17.53},{"t":10.888,"v":17.71},{"t":10.913,"v":17.77},{"t":10.938,"v":18.07},{"t":10.963,"v":17.92},{"t":10.988,"v":17.88},
{"t":11.013,"v":17.76},{"t":11.038,"v":17.80},{"t":11.063,"v":17.61},{"t":11.088,"v":17.55},{"t":11.113,"v":17.77},{"t":11.138,"v":17.44},{"t":11.163,"v":17.95},{"t":11.188,"v":17.59},{"t":11.213,"v":17.91},{"t":11.238,"v":17.82},{"t":11.263,"v":17.56},{"t":11.288,"v":17.86},{"t":11.313,"v":17.86},{"t":11.338,"v":17.64},{"t":11.363,"v":17.88},{"t":11.388,"v":17.92},{"t":11.413,"v":17.83},{"t":11.438,"v":17.67},{"t":11.463,"v":17.73},{"t":11.488,"v":17.62},{"t":11.513,"v":17.66},{"t":11.538,"v":17.61},{"t":11.563,"v":17.70},{"t":11.588,"v":17.90},{"t":11.613,"v":17.69},{"t":11.638,"v":17.54},{"t":11.663,"v":17.93},{"t":11.688,"v":17.46},{"t":11.713,"v":17.64},{"t":11.738,"v":17.70},{"t":11.763,"v":18.00},{"t":11.788,"v":17.85},{"t":11.813,"v":17.81},{"t":11.838,"v":17.78},{"t":11.863,"v":17.97},{"t":11.888,"v":17.49},{"t":11.913,"v":17.64},{"t":11.938,"v":17.73},{"t":11.963,"v":17.75},{"t":11.988,"v":17.67},
{"t":12.013,"v":17.50},{"t":12.038,"v":17.82},{"t":12.063,"v":17.73},{"t":12.088,"v":17.47},{"t":12.113,"v":17.77},{"t":12.138,"v":17.77},{"t":12.163,"v":17.55},{"t":12.188,"v":17.79},{"t":12.213,"v":17.83},{"t":12.238,"v":17.74},{"t":12.263,"v":17.58},{"t":12.288,"v":17.64},{"t":12.313,"v":17.53},{"t":12.338,"v":17.61},{"t":12.363,"v":17.56},{"t":12.388,"v":17.65},{"t":12.413,"v":17.85},{"t":12.438,"v":17.64},{"t":12.463,"v":17.49},{"t":12.488,"v":17.88},{"t":12.513,"v":17.38},{"t":12.538,"v":17.56},{"t":12.563,"v":17.62},{"t":12.588,"v":17.92},{"t":12.613,"v":17.77},{"t":12.638,"v":17.73},{"t":12.663,"v":17.70},{"t":12.688,"v":17.89},{"t":12.713,"v":17.41},{"t":12.738,"v":17.56},{"t":12.763,"v":17.65},{"t":12.788,"v":17.67},{"t":12.813,"v":17.59},{"t":12.838,"v":17.64},{"t":12.863,"v":17.68},{"t":12.888,"v":17.49},{"t":12.913,"v":17.43},{"t":12.938,"v":17.65},{"t":12.963,"v":17.32},{"t":12.988,"v":17.83},
{"t":13.013,"v":17.86},{"t":13.038,"v":17.90},{"t":13.063,"v":17.81},{"t":13.088,"v":17.65},{"t":13.113,"v":17.71},{"t":13.138,"v":17.60},{"t":13.163,"v":17.68},{"t":13.188,"v":17.63},{"t":13.213,"v":17.72},{"t":13.238,"v":17.92},{"t":13.263,"v":17.71},{"t":13.288,"v":17.56},{"t":13.313,"v":17.95},{"t":13.338,"v":17.48},{"t":13.363,"v":17.66},{"t":13.388,"v":17.72},{"t":13.413,"v":18.02},{"t":13.438,"v":17.87},{"t":13.463,"v":17.83},{"t":13.488,"v":17.80},{"t":13.513,"v":18.02},{"t":13.538,"v":17.54},{"t":13.563,"v":17.69},{"t":13.588,"v":17.78},{"t":13.613,"v":17.80},{"t":13.638,"v":17.72},{"t":13.663,"v":17.77},{"t":13.688,"v":17.81},{"t":13.713,"v":17.62},{"t":13.738,"v":17.56},{"t":13.763,"v":17.78},{"t":13.788,"v":17.45},{"t":13.813,"v":17.96},{"t":13.838,"v":17.60},{"t":13.863,"v":17.92},{"t":13.888,"v":17.83},{"t":13.913,"v":17.57},{"t":13.938,"v":17.87},{"t":13.963,"v":17.87},{"t":13.988,"v":17.65},
{"t":14.013,"v":17.69},{"t":14.038,"v":17.78},{"t":14.063,"v":17.98},{"t":14.088,"v":17.77},{"t":14.113,"v":17.62},{"t":14.138,"v":18.01},{"t":14.163,"v":17.54},{"t":14.188,"v":17.72},{"t":14.213,"v":17.78},{"t":14.238,"v":18.08},{"t":14.263,"v":17.93},{"t":14.288,"v":17.89},{"t":14.313,"v":17.86},{"t":14.338,"v":18.05},{"t":14.363,"v":17.57},{"t":14.388,"v":17.72},{"t":14.413,"v":17.81},{"t":14.438,"v":17.83},{"t":14.463,"v":17.75},{"t":14.488,"v":17.80},{"t":14.513,"v":17.78},{"t":14.538,"v":17.59},{"t":14.563,"v":17.53},{"t":14.588,"v":17.75},{"t":14.613,"v":17.42},{"t":14.638,"v":17.93},{"t":14.663,"v":17.57},{"t":14.688,"v":17.89},{"t":14.713,"v":17.80},{"t":14.738,"v":17.54},{"t":14.763,"v":17.84},{"t":14.788,"v":17.84},{"t":14.813,"v":17.62},{"t":14.838,"v":17.86},{"t":14.863,"v":17.90},{"t":14.888,"v":17.81},{"t":14.913,"v":17.65},{"t":14.938,"v":17.71},{"t":14.963,"v":17.60},{"t":14.988,"v":17.68},
{"t":15.013,"v":17.59},{"t":15.038,"v":17.65},{"t":15.063,"v":17.95},{"t":15.088,"v":17.80},{"t":15.113,"v":17.76},{"t":15.138,"v":17.73},{"t":15.163,"v":17.92},{"t":15.188,"v":17.44},{"t":15.213,"v":17.59},{"t":15.238,"v":17.68},{"t":15.263,"v":17.70},{"t":15.288,"v":17.62},{"t":15.313,"v":17.67},{"t":15.338,"v":17.71},{"t":15.363,"v":17.52},{"t":15.388,"v":17.46},{"t":15.413,"v":17.68},{"t":15.438,"v":17.35},{"t":15.463,"v":17.86},{"t":15.488,"v":17.50},{"t":15.513,"v":17.77},{"t":15.538,"v":17.68},{"t":15.563,"v":17.42},{"t":15.588,"v":17.72},{"t":15.613,"v":17.72},{"t":15.638,"v":17.50},{"t":15.663,"v":17.74},{"t":15.688,"v":17.78},{"t":15.713,"v":17.69},{"t":15.738,"v":17.53},{"t":15.763,"v":17.59},{"t":15.788,"v":17.48},{"t":15.813,"v":17.56},{"t":15.838,"v":17.51},{"t":15.863,"v":17.60},{"t":15.888,"v":17.80},{"t":15.913,"v":17.59},{"t":15.938,"v":17.44},{"t":15.963,"v":17.83},{"t":15.988,"v":17.36},
{"t":16.013,"v":17.54},{"t":16.038,"v":17.69},{"t":16.063,"v":17.78},{"t":16.088,"v":17.80},{"t":16.113,"v":17.72},{"t":16.138,"v":17.77},{"t":16.163,"v":17.81},{"t":16.188,"v":17.62},{"t":16.213,"v":17.56},{"t":16.238,"v":17.78},{"t":16.263,"v":17.45},{"t":16.288,"v":17.96},{"t":16.313,"v":17.60},{"t":16.338,"v":17.92},{"t":16.363,"v":17.83},{"t":16.388,"v":17.57},{"t":16.413,"v":17.87},{"t":16.438,"v":17.87},{"t":16.463,"v":17.65},{"t":16.488,"v":17.89},{"t":16.513,"v":18.03},{"t":16.538,"v":17.94},{"t":16.563,"v":17.78},{"t":16.588,"v":17.84},{"t":16.613,"v":17.73},{"t":16.638,"v":17.81},{"t":16.663,"v":17.76},{"t":16.688,"v":17.85},{"t":16.713,"v":18.05},{"t":16.738,"v":17.84},{"t":16.763,"v":17.69},{"t":16.788,"v":18.08},{"t":16.813,"v":17.61},{"t":16.838,"v":17.79},{"t":16.863,"v":17.85},{"t":16.888,"v":18.15},{"t":16.913,"v":18.00},{"t":16.938,"v":17.96},{"t":16.963,"v":17.93},{"t":16.988,"v":18.12},
{"t":17.013,"v":17.77},{"t":17.038,"v":17.71},{"t":17.063,"v":17.93},{"t":17.088,"v":17.60},{"t":17.113,"v":18.11},{"t":17.138,"v":17.75},{"t":17.163,"v":18.07},{"t":17.188,"v":17.98},{"t":17.213,"v":17.72},{"t":17.238,"v":18.02},{"t":17.263,"v":18.02},{"t":17.288,"v":17.80},{"t":17.313,"v":18.04},{"t":17.338,"v":18.08},{"t":17.363,"v":17.99},{"t":17.388,"v":17.83},{"t":17.413,"v":17.89},{"t":17.438,"v":17.78},{"t":17.463,"v":17.86},{"t":17.488,"v":17.81},{"t":17.513,"v":17.90},{"t":17.538,"v":18.10},{"t":17.563,"v":17.89},{"t":17.588,"v":17.74},{"t":17.613,"v":18.13},{"t":17.638,"v":17.66},{"t":17.663,"v":17.84},{"t":17.688,"v":17.90},{"t":17.713,"v":18.20},{"t":17.738,"v":18.05},{"t":17.763,"v":18.01},{"t":17.788,"v":17.98},{"t":17.813,"v":18.17},{"t":17.838,"v":17.69},{"t":17.863,"v":17.84},{"t":17.888,"v":17.93},{"t":17.913,"v":17.95},{"t":17.938,"v":17.87},{"t":17.963,"v":17.92},{"t":17.988,"v":17.96},
{"t":18.013,"v":17.98},{"t":18.038,"v":17.72},{"t":18.063,"v":18.02},{"t":18.088,"v":18.02},{"t":18.113,"v":17.80},{"t":18.138,"v":18.04},{"t":18.163,"v":18.08},{"t":18.188,"v":17.99},{"t":18.213,"v":17.83},{"t":18.238,"v":17.89},{"t":18.263,"v":17.78},{"t":18.288,"v":17.86},{"t":18.313,"v":17.81},{"t":18.338,"v":17.90},{"t":18.363,"v":18.10},{"t":18.388,"v":17.89},{"t":18.413,"v":17.74},{"t":18.438,"v":18.13},{"t":18.463,"v":17.66},{"t":18.488,"v":17.84},{"t":18.513,"v":17.88},{"t":18.538,"v":18.18},{"t":18.563,"v":18.03},{"t":18.588,"v":17.99},{"t":18.613,"v":17.96},{"t":18.638,"v":18.15},{"t":18.663,"v":17.67},{"t":18.688,"v":17.82},{"t":18.713,"v":17.91},{"t":18.738,"v":17.93},{"t":18.763,"v":17.85},{"t":18.788,"v":17.90},{"t":18.813,"v":17.94},{"t":18.838,"v":17.75},{"t":18.863,"v":17.69},{"t":18.888,"v":17.91},{"t":18.913,"v":17.58},{"t":18.938,"v":18.09},{"t":18.963,"v":17.73},{"t":18.988,"v":18.05},
{"t":19.013,"v":17.94},{"t":19.038,"v":17.78},{"t":19.063,"v":17.84},{"t":19.088,"v":17.73},{"t":19.113,"v":17.81},{"t":19.138,"v":17.76},{"t":19.163,"v":17.85},{"t":19.188,"v":18.05},{"t":19.213,"v":17.84},{"t":19.238,"v":17.69},{"t":19.263,"v":18.08},{"t":19.288,"v":17.61},{"t":19.313,"v":17.79},{"t":19.338,"v":17.85},{"t":19.363,"v":18.15},{"t":19.388,"v":18.00},{"t":19.413,"v":17.96},{"t":19.438,"v":17.93},{"t":19.463,"v":18.12},{"t":19.488,"v":17.64},{"t":19.513,"v":17.74},{"t":19.538,"v":17.83},{"t":19.563,"v":17.85},{"t":19.588,"v":17.77},{"t":19.613,"v":17.82},{"t":19.638,"v":17.86},{"t":19.663,"v":17.67},{"t":19.688,"v":17.61},{"t":19.713,"v":17.83},{"t":19.738,"v":17.50},{"t":19.763,"v":18.01},{"t":19.788,"v":17.65},{"t":19.813,"v":17.97},{"t":19.838,"v":17.88},{"t":19.863,"v":17.62},{"t":19.888,"v":17.92},{"t":19.913,"v":17.92},{"t":19.938,"v":17.70},{"t":19.963,"v":17.94},{"t":19.988,"v":17.98},
{"t":20.013,"v":17.92},{"t":20.038,"v":17.71},{"t":20.063,"v":17.56},{"t":20.088,"v":17.95},{"t":20.113,"v":17.48},{"t":20.138,"v":17.66},{"t":20.163,"v":17.72},{"t":20.188,"v":18.02},{"t":20.213,"v":17.87},{"t":20.238,"v":17.83},{"t":20.263,"v":17.80},{"t":20.288,"v":17.99},{"t":20.313,"v":17.51},{"t":20.338,"v":17.66},{"t":20.363,"v":17.75},{"t":20.388,"v":17.77},{"t":20.413,"v":17.69},{"t":20.438,"v":17.74},{"t":20.463,"v":17.78},{"t":20.488,"v":17.59},{"t":20.513,"v":17.47},{"t":20.538,"v":17.69},{"t":20.563,"v":17.36},{"t":20.588,"v":17.87},{"t":20.613,"v":17.51},{"t":20.638,"v":17.83},{"t":20.663,"v":17.74},{"t":20.688,"v":17.48},{"t":20.713,"v":17.78},{"t":20.738,"v":17.78},{"t":20.763,"v":17.56},{"t":20.788,"v":17.80},{"t":20.813,"v":17.84},{"t":20.838,"v":17.75},{"t":20.863,"v":17.59},{"t":20.888,"v":17.65},{"t":20.913,"v":17.54},{"t":20.938,"v":17.62},{"t":20.963,"v":17.57},{"t":20.988,"v":17.66},
{"t":21.013,"v":17.92},{"t":21.038,"v":17.77},{"t":21.063,"v":17.73},{"t":21.088,"v":17.70},{"t":21.113,"v":17.89},{"t":21.138,"v":17.41},{"t":21.163,"v":17.56},{"t":21.188,"v":17.65},{"t":21.213,"v":17.67},{"t":21.238,"v":17.59},{"t":21.263,"v":17.64},{"t":21.288,"v":17.68},{"t":21.313,"v":17.49},{"t":21.338,"v":17.43},{"t":21.363,"v":17.65},{"t":21.388,"v":17.32},{"t":21.413,"v":17.83},{"t":21.438,"v":17.47},{"t":21.463,"v":17.79},{"t":21.488,"v":17.70},{"t":21.513,"v":17.40},{"t":21.538,"v":17.70},{"t":21.563,"v":17.70},{"t":21.588,"v":17.48},{"t":21.613,"v":17.72},{"t":21.638,"v":17.76},{"t":21.663,"v":17.67},{"t":21.688,"v":17.51},{"t":21.713,"v":17.57},{"t":21.738,"v":17.46},{"t":21.763,"v":17.54},{"t":21.788,"v":17.49},{"t":21.813,"v":17.58},{"t":21.838,"v":17.78},{"t":21.863,"v":17.57},{"t":21.888,"v":17.42},{"t":21.913,"v":17.81},{"t":21.938,"v":17.34},{"t":21.963,"v":17.52},{"t":21.988,"v":17.58},
{"t":22.013,"v":17.59},{"t":22.038,"v":17.61},{"t":22.063,"v":17.53},{"t":22.088,"v":17.58},{"t":22.113,"v":17.62},{"t":22.138,"v":17.43},{"t":22.163,"v":17.37},{"t":22.188,"v":17.59},{"t":22.213,"v":17.26},{"t":22.238,"v":17.77},{"t":22.263,"v":17.41},{"t":22.288,"v":17.73},{"t":22.313,"v":17.64},{"t":22.338,"v":17.38},{"t":22.363,"v":17.68},{"t":22.388,"v":17.68},{"t":22.413,"v":17.46},{"t":22.438,"v":17.70},{"t":22.463,"v":17.74},{"t":22.488,"v":17.65},{"t":22.513,"v":17.47},{"t":22.538,"v":17.53},{"t":22.563,"v":17.42},{"t":22.588,"v":17.50},{"t":22.613,"v":17.45},{"t":22.638,"v":17.54},{"t":22.663,"v":17.74},{"t":22.688,"v":17.53},{"t":22.713,"v":17.38},{"t":22.738,"v":17.77},{"t":22.763,"v":17.30},{"t":22.788,"v":17.48},{"t":22.813,"v":17.54},{"t":22.838,"v":17.84},{"t":22.863,"v":17.69},{"t":22.888,"v":17.65},{"t":22.913,"v":17.62},{"t":22.938,"v":17.81},{"t":22.963,"v":17.33},{"t":22.988,"v":17.48},
{"t":23.013,"v":17.55},{"t":23.038,"v":17.22},{"t":23.063,"v":17.73},{"t":23.088,"v":17.37},{"t":23.113,"v":17.69},{"t":23.138,"v":17.60},{"t":23.163,"v":17.34},{"t":23.188,"v":17.64},{"t":23.213,"v":17.64},{"t":23.238,"v":17.42},{"t":23.263,"v":17.66},{"t":23.288,"v":17.70},{"t":23.313,"v":17.61},{"t":23.338,"v":17.45},{"t":23.363,"v":17.51},{"t":23.388,"v":17.40},{"t":23.413,"v":17.48},{"t":23.438,"v":17.43},{"t":23.463,"v":17.52},{"t":23.488,"v":17.72},{"t":23.513,"v":17.49},{"t":23.538,"v":17.34},{"t":23.563,"v":17.73},{"t":23.588,"v":17.26},{"t":23.613,"v":17.44},{"t":23.638,"v":17.50},{"t":23.663,"v":17.80},{"t":23.688,"v":17.65},{"t":23.713,"v":17.61},{"t":23.738,"v":17.58},{"t":23.763,"v":17.77},{"t":23.788,"v":17.29},{"t":23.813,"v":17.44},{"t":23.838,"v":17.53},{"t":23.863,"v":17.55},{"t":23.888,"v":17.47},{"t":23.913,"v":17.52},{"t":23.938,"v":17.56},{"t":23.963,"v":17.37},{"t":23.988,"v":17.31},
{"t":3.47,"v":18.94},{"t":3.24,"v":18.67},{"t":2.9,"v":18.62},{"t":2.57,"v":18.57},{"t":3.05,"v":18.56},{"t":3.55,"v":18.53},{"t":3.4,"v":18.47},{"t":3.15,"v":18.42},{"t":1.86,"v":18.26},{"t":1.78,"v":18.21},{"t":2.26,"v":18.2},{"t":0.79,"v":18.05},{"t":1.21,"v":18.05},{"t":0.56,"v":17.83},{"t":1.27,"v":17.98},{"t":0.3,"v":17.8},{"t":0.65,"v":16.91},{"t":1.15,"v":16.94},{"t":1.44,"v":17.14},{"t":1.78,"v":17.15},{"t":2.2,"v":17.21},{"t":2.68,"v":17.18},{"t":3.27,"v":17.27},{"t":3.05,"v":17.07},{"t":3.27,"v":16.93},{"t":3.6,"v":17.36},{"t":0.95,"v":17.2},
{"t":5.1,"v":18.4},{"t":5.47,"v":18.41},{"t":5.9,"v":18.41},{"t":6.71,"v":18.41},{"t":4.54,"v":18.39},{"t":7.7,"v":18.29},{"t":7.92,"v":18.21},{"t":4.06,"v":18.4},{"t":4.12,"v":17.46},{"t":5.02,"v":17.39},{"t":5.9,"v":17.29},{"t":6.09,"v":17.39},{"t":7.16,"v":17.37},{"t":7.64,"v":17.46},{"t":7.73,"v":17.33},{"t":7.98,"v":17.25},{"t":4.34,"v":17.56},{"t":6.8,"v":17.56},
{"t":10.69,"v":18.51},{"t":8.43,"v":18.4},{"t":8.29,"v":18.29},{"t":10.32,"v":18.41},{"t":9.64,"v":18.34},{"t":9.98,"v":18.35},{"t":11.31,"v":18.32},{"t":8.99,"v":18.24},{"t":11.9,"v":18.26},{"t":8.38,"v":17.34},{"t":8.38,"v":17.27},{"t":8.94,"v":17.28},{"t":9.42,"v":17.23},{"t":9.76,"v":17.2},{"t":10.27,"v":17.28},{"t":11.31,"v":17.29},{"t":9.05,"v":17.05},{"t":11.39,"v":17.03},{"t":11.76,"v":17.27},{"t":8.07,"v":17.25},
{"t":14.21,"v":18.51},{"t":15.14,"v":18.48},{"t":12.8,"v":18.33},{"t":13.65,"v":18.32},{"t":14.38,"v":18.43},{"t":15.28,"v":18.39},{"t":15.65,"v":18.34},{"t":15.99,"v":18.38},{"t":14.0,"v":18.38},{"t":14.86,"v":18.3},{"t":12.66,"v":16.92},{"t":12.89,"v":16.93},{"t":12.66,"v":16.85},{"t":12.6,"v":16.79},{"t":12.94,"v":16.68},{"t":13.09,"v":16.71},{"t":12.89,"v":17.04},{"t":13.17,"v":17.17},{"t":13.09,"v":17.25},{"t":12.69,"v":17.18},{"t":12.32,"v":17.29},{"t":13.51,"v":17.45},{"t":15.51,"v":16.74},{"t":15.79,"v":16.69},{"t":15.76,"v":16.62},{"t":15.9,"v":16.81},{"t":15.9,"v":16.32},{"t":15.88,"v":16.16},{"t":15.85,"v":16.06},{"t":15.14,"v":17.0},{"t":15.62,"v":16.98},{"t":14.66,"v":17.17},{"t":15.06,"v":17.23},{"t":15.48,"v":17.27},{"t":15.85,"v":17.04},{"t":15.99,"v":16.91},{"t":15.28,"v":17.11},
{"t":17.51,"v":18.76},{"t":16.36,"v":18.67},{"t":16.7,"v":18.56},{"t":17.29,"v":18.58},{"t":17.48,"v":18.58},{"t":17.43,"v":18.48},{"t":19.32,"v":18.56},{"t":19.32,"v":18.43},{"t":19.6,"v":18.37},{"t":17.12,"v":18.4},{"t":17.68,"v":18.38},{"t":18.19,"v":18.32},{"t":18.81,"v":18.32},{"t":16.16,"v":18.36},{"t":17.29,"v":16.88},{"t":16.41,"v":17.04},{"t":16.16,"v":16.95},{"t":17.82,"v":17.36},{"t":18.27,"v":17.39},{"t":18.84,"v":17.39},{"t":19.18,"v":17.41},{"t":19.51,"v":17.45},{"t":19.83,"v":17.3},{"t":20.08,"v":16.93},{"t":16.47,"v":17.36},{"t":16.12,"v":17.23},
{"t":23.86,"v":18.19},{"t":23.86,"v":18.05},{"t":22.65,"v":17.92},{"t":21.32,"v":18.05},{"t":20.53,"v":18.14},{"t":20.47,"v":18.09},{"t":21.52,"v":17.96},{"t":21.01,"v":17.9},{"t":21.94,"v":17.85},{"t":23.83,"v":17.87},{"t":23.01,"v":17.82},{"t":23.49,"v":17.8},{"t":21.46,"v":16.98},{"t":20.19,"v":16.98},{"t":23.41,"v":17.0},{"t":23.69,"v":16.91},{"t":22.14,"v":17.15},{"t":22.93,"v":17.09},{"t":22.36,"v":17.08},{"t":22.59,"v":17.0},{"t":20.76,"v":17.25},{"t":20.47,"v":17.3},{"t":24.0,"v":17.6},{"t":23.95,"v":17.45},{"t":24.0,"v":17.3},{"t":23.97,"v":17.75}
],
"phase": [
{"t":0,"v":17.7},{"t":0,"v":17.64},{"t":0,"v":17.58},{"t":0,"v":17.52},{"t":0,"v":17.46},{"t":0,"v":17.4},{"t":0,"v":17.34},{"t":0,"v":17.28},{"t":0,"v":17.22},{"t":0.03,"v":17.6},{"t":0.03,"v":17.5},{"t":0.03,"v":17.4},{"t":0.03,"v":17.3},{"t":0.05,"v":17.35},{"t":0.05,"v":17.27},{"t":0.08,"v":17.25},{"t":0.1,"v":17.22},{"t":0.15,"v":17.19},{"t":0.2,"v":17.17},{"t":0.25,"v":17.15},{"t":0.3,"v":17.135},{"t":0.35,"v":17.12},{"t":0.4,"v":17.11},{"t":0.45,"v":17.1},{"t":0.5,"v":17.09},{"t":0.55,"v":17.08},{"t":0.6,"v":17.07},{"t":0.65,"v":17.065},{"t":0.7,"v":17.06},{"t":0.8,"v":17.05},{"t":0.9,"v":17.04},{"t":1.0,"v":17.035},{"t":1.1,"v":17.03},{"t":1.2,"v":17.025},{"t":1.3,"v":17.02},{"t":1.4,"v":17.02},{"t":1.5,"v":17.015},{"t":1.6,"v":17.015},{"t":1.7,"v":17.01},
{"t":1.45,"v":16.965},{"t":1.55,"v":16.965},{"t":1.65,"v":16.965},{"t":1.75,"v":16.965},{"t":1.85,"v":16.965},{"t":1.95,"v":16.965},{"t":2.05,"v":16.965},{"t":2.15,"v":16.965},{"t":2.25,"v":16.965},{"t":2.35,"v":16.965},{"t":2.45,"v":16.965},{"t":2.55,"v":16.965},{"t":2.65,"v":16.965},{"t":2.75,"v":16.965},{"t":2.85,"v":16.965},{"t":2.95,"v":16.965},{"t":3.05,"v":16.965},{"t":3.15,"v":16.965},{"t":3.25,"v":16.965},{"t":3.35,"v":16.965},{"t":3.45,"v":16.965},{"t":3.55,"v":16.965},{"t":3.65,"v":16.965},
{"t":3.4,"v":17.155},{"t":3.5,"v":17.155},{"t":3.6,"v":17.155},{"t":3.7,"v":17.155},{"t":3.8,"v":17.155},{"t":3.9,"v":17.155},{"t":4.0,"v":17.155},{"t":4.1,"v":17.155},{"t":4.2,"v":17.155},{"t":4.3,"v":17.155},{"t":4.4,"v":17.155},{"t":4.5,"v":17.155},
{"t":4.4,"v":16.93},
{"t":4.35,"v":17.035},{"t":4.45,"v":17.035},{"t":4.55,"v":17.035},{"t":4.65,"v":17.035},{"t":4.75,"v":17.035},{"t":4.85,"v":17.035},{"t":4.95,"v":17.035},{"t":5.05,"v":17.035},{"t":5.15,"v":17.035},{"t":5.25,"v":17.035},{"t":5.35,"v":17.035},{"t":5.45,"v":17.035},{"t":5.55,"v":17.035},{"t":5.65,"v":17.035},{"t":5.75,"v":17.035},{"t":5.85,"v":17.035},{"t":5.95,"v":17.035},{"t":6.05,"v":17.035},{"t":6.15,"v":17.035},{"t":6.25,"v":17.035},{"t":6.35,"v":17.035},{"t":6.45,"v":17.035},
{"t":6.3,"v":17.0},{"t":6.4,"v":17.0},{"t":6.5,"v":17.0},{"t":6.6,"v":17.0},{"t":6.7,"v":17.0},{"t":6.8,"v":17.0},{"t":6.9,"v":17.0},{"t":7.0,"v":17.0},{"t":7.1,"v":17.0},{"t":7.2,"v":17.0},{"t":7.3,"v":17.0},{"t":7.4,"v":17.0},{"t":7.5,"v":17.0},{"t":7.6,"v":17.0},{"t":7.7,"v":17.0},{"t":7.8,"v":17.0},{"t":7.9,"v":17.0},{"t":8.0,"v":17.0},{"t":8.1,"v":17.0},{"t":8.2,"v":17.0},{"t":8.3,"v":17.0},{"t":8.4,"v":17.0},
{"t":8.2,"v":16.965},{"t":8.3,"v":16.965},{"t":8.4,"v":16.965},{"t":8.5,"v":16.965},{"t":8.6,"v":16.965},{"t":8.7,"v":16.965},{"t":8.8,"v":16.965},{"t":8.9,"v":16.965},{"t":9.0,"v":16.965},{"t":9.1,"v":16.965},{"t":9.2,"v":16.965},{"t":9.3,"v":16.965},{"t":9.4,"v":16.965},{"t":9.5,"v":16.965},{"t":9.6,"v":16.965},{"t":9.7,"v":16.965},{"t":9.8,"v":16.965},{"t":9.9,"v":16.965},{"t":10.0,"v":16.965},{"t":10.1,"v":16.965},{"t":10.2,"v":16.965},{"t":10.3,"v":16.965},{"t":10.4,"v":16.965},{"t":10.5,"v":16.965},{"t":10.6,"v":16.965},{"t":10.7,"v":16.965},{"t":10.8,"v":16.965},{"t":10.9,"v":16.965},{"t":11.0,"v":16.965},
{"t":10.9,"v":17.09},{"t":11.0,"v":17.09},{"t":11.1,"v":17.09},{"t":11.2,"v":17.09},{"t":11.3,"v":17.09},{"t":11.4,"v":17.09},{"t":11.5,"v":17.09},{"t":11.6,"v":17.09},{"t":11.7,"v":17.09},{"t":11.8,"v":17.09},{"t":11.9,"v":17.09},{"t":12.0,"v":17.09},{"t":12.1,"v":17.09},{"t":12.2,"v":17.09},{"t":12.3,"v":17.09},{"t":12.4,"v":17.09},{"t":12.5,"v":17.09},{"t":12.6,"v":17.09},{"t":12.7,"v":17.09},{"t":12.8,"v":17.09},{"t":12.9,"v":17.09},{"t":13.0,"v":17.09},{"t":13.1,"v":17.09},{"t":13.2,"v":17.09},{"t":13.3,"v":17.09},{"t":13.4,"v":17.09},{"t":13.5,"v":17.09},{"t":13.6,"v":17.09},{"t":13.7,"v":17.09},
{"t":13.5,"v":17.06},{"t":13.6,"v":17.06},{"t":13.7,"v":17.06},{"t":13.8,"v":17.06},{"t":13.9,"v":17.06},{"t":14.0,"v":17.06},{"t":14.1,"v":17.06},{"t":14.2,"v":17.06},{"t":14.3,"v":17.06},{"t":14.4,"v":17.06},{"t":14.5,"v":17.06},{"t":14.6,"v":17.06},{"t":14.7,"v":17.06},{"t":14.8,"v":17.06},{"t":14.9,"v":17.06},{"t":15.0,"v":17.06},{"t":15.1,"v":17.06},{"t":15.2,"v":17.06},
{"t":15.05,"v":16.875},{"t":15.15,"v":16.875},{"t":15.25,"v":16.875},{"t":15.35,"v":16.875},{"t":15.45,"v":16.875},{"t":15.55,"v":16.875},{"t":15.65,"v":16.875},{"t":15.75,"v":16.875},{"t":15.85,"v":16.875},{"t":15.95,"v":16.875},{"t":16.05,"v":16.875},{"t":16.15,"v":16.875},
{"t":16.05,"v":17.12},{"t":16.15,"v":17.12},{"t":16.25,"v":17.12},{"t":16.35,"v":17.12},{"t":16.45,"v":17.12},{"t":16.55,"v":17.12},{"t":16.65,"v":17.12},{"t":16.75,"v":17.12},{"t":16.85,"v":17.12},{"t":16.95,"v":17.12},{"t":17.05,"v":17.12},{"t":17.15,"v":17.12},{"t":17.25,"v":17.12},{"t":17.35,"v":17.12},{"t":17.45,"v":17.12},{"t":17.55,"v":17.12},
{"t":17.3,"v":17.155},{"t":17.4,"v":17.155},{"t":17.5,"v":17.155},{"t":17.6,"v":17.155},{"t":17.7,"v":17.155},{"t":17.8,"v":17.155},{"t":17.9,"v":17.155},{"t":18.0,"v":17.155},{"t":18.1,"v":17.155},{"t":18.2,"v":17.155},{"t":18.3,"v":17.155},{"t":18.4,"v":17.155},{"t":18.5,"v":17.155},{"t":18.6,"v":17.155},{"t":18.7,"v":17.155},{"t":18.8,"v":17.155},{"t":18.9,"v":17.155},{"t":19.0,"v":17.155},{"t":19.1,"v":17.155},{"t":19.2,"v":17.155},{"t":19.3,"v":17.155},{"t":19.4,"v":17.155},{"t":19.5,"v":17.155},{"t":19.6,"v":17.155},{"t":19.7,"v":17.155},
{"t":19.45,"v":17.06},{"t":19.55,"v":17.06},{"t":19.65,"v":17.06},{"t":19.75,"v":17.06},{"t":19.85,"v":17.06},{"t":19.95,"v":17.06},{"t":20.05,"v":17.06},{"t":20.15,"v":17.06},{"t":20.25,"v":17.06},{"t":20.35,"v":17.06},{"t":20.45,"v":17.06},{"t":20.55,"v":17.06},{"t":20.65,"v":17.06},{"t":20.75,"v":17.06},{"t":20.85,"v":17.06},{"t":20.95,"v":17.06},{"t":21.05,"v":17.06},{"t":21.15,"v":17.06},{"t":21.25,"v":17.06},{"t":21.35,"v":17.06},{"t":21.45,"v":17.06},{"t":21.5,"v":17.06},
{"t":21.3,"v":17.03},{"t":21.4,"v":17.03},{"t":21.5,"v":17.03},{"t":21.6,"v":17.03},{"t":21.7,"v":17.03},{"t":21.8,"v":17.03},{"t":21.9,"v":17.03},{"t":22.0,"v":17.03},{"t":22.1,"v":17.03},{"t":22.2,"v":17.03},{"t":22.3,"v":17.03},{"t":22.4,"v":17.03},{"t":22.5,"v":17.03},{"t":22.6,"v":17.03},{"t":22.7,"v":17.03},{"t":22.8,"v":17.03},{"t":22.9,"v":17.03},{"t":23.0,"v":17.03},{"t":23.1,"v":17.03},{"t":23.2,"v":17.03},{"t":23.3,"v":17.03},{"t":23.4,"v":17.03},{"t":23.5,"v":17.03},{"t":23.6,"v":17.03},{"t":23.7,"v":17.03},{"t":23.75,"v":17.03},
{"t":23.55,"v":16.965},{"t":23.65,"v":16.965},{"t":23.75,"v":16.965},{"t":23.85,"v":16.965},{"t":23.95,"v":16.965},{"t":24.0,"v":16.965}
]
},
"layer": [
{
 "data": {"name": "code"},
 "mark": {"type": "point", "shape": "square", "filled": true, "opacity": 1, "size": 81, "strokeWidth": 0},
 "encoding": {
  "x": {"field": "t", "type": "quantitative", "scale": {"domain": [0, 24], "nice": false, "zero": false},
   "axis": {"orient": "bottom", "values": [0,1,2,3,4,5,6,7,8,9,10,11,12,13,14,15,16,17,18,19,20,21,22,23,24],
    "labelExpr": "datum.value % 4 === 0 ? ((datum.value % 24) < 10 ? '0' : '') + (datum.value % 24) + ':00' : ''",
    "labelFontSize": 27, "labelFont": "Liberation Sans", "labelColor": "black", "labelPadding": 51, "labelFlush": false, "labelOverlap": false, "labelBound": false,
    "tickSize": -8, "tickColor": "black", "tickWidth": 1.5,
    "domainColor": "black", "domainWidth": 2,
    "grid": true, "gridColor": "#a8a8a8", "gridDash": [2, 3], "gridWidth": 1,
    "gridOpacity": {"condition": {"test": "datum.value % 4 === 0 && datum.value > 0 && datum.value < 24", "value": 1}, "value": 0},
    "title": "GPS Time", "titleFont": "Liberation Sans", "titleFontSize": 29, "titleFontWeight": "normal", "titleColor": "black", "titleY": 105, "titleBaseline": "middle"}},
  "y": {"field": "v", "type": "quantitative", "scale": {"domain": [16, 19], "nice": false, "zero": false},
   "axis": {"orient": "left", "values": [16, 16.5, 17, 17.5, 18, 18.5, 19],
    "labelExpr": "datum.value % 1 === 0 ? format(datum.value, 'd') : ''",
    "labelFontSize": 27, "labelFont": "Liberation Sans", "labelColor": "black", "labelPadding": 30, "labelFlush": false, "labelOverlap": false, "labelBound": false,
    "tickSize": -8, "tickColor": "black", "tickWidth": 1.5,
    "domainColor": "black", "domainWidth": 2,
    "grid": true, "gridColor": "#a8a8a8", "gridDash": [2, 3], "gridWidth": 1,
    "gridOpacity": {"condition": {"test": "datum.value > 16 && datum.value < 19", "value": 1}, "value": 0},
    "title": "Estimated GLONASS-GPS Clock Offsets [m]", "titleFont": "Liberation Sans", "titleFontSize": 29, "titleFontWeight": "normal", "titleColor": "black",
    "titleX": -99, "titleY": 238, "titleAngle": -90, "titleBaseline": "middle", "titleAlign": "center"}},
  "color": {"datum": "Code Clock", "type": "nominal", "scale": {"domain": ["Code Clock", "Phase Clock"], "range": ["#9b9b9b", "#000000"]}}
 }
},
{
 "data": {"name": "phase"},
 "mark": {"type": "point", "shape": "square", "filled": true, "opacity": 1, "size": 100, "strokeWidth": 0},
 "encoding": {
  "x": {"field": "t", "type": "quantitative",
   "axis": {"orient": "top", "values": [0,1,2,3,4,5,6,7,8,9,10,11,12,13,14,15,16,17,18,19,20,21,22,23,24], "labels": false, "title": null, "grid": false,
    "tickSize": -8, "tickColor": "black", "tickWidth": 1.5, "domainColor": "black", "domainWidth": 2}},
  "y": {"field": "v", "type": "quantitative",
   "axis": {"orient": "right", "values": [16, 16.5, 17, 17.5, 18, 18.5, 19], "labels": false, "title": null, "grid": false,
    "tickSize": -8, "tickColor": "black", "tickWidth": 1.5, "domainColor": "black", "domainWidth": 2}},
  "color": {"datum": "Phase Clock", "type": "nominal"}
 }
}
],
"resolve": {"axis": {"x": "independent", "y": "independent"}}
}
